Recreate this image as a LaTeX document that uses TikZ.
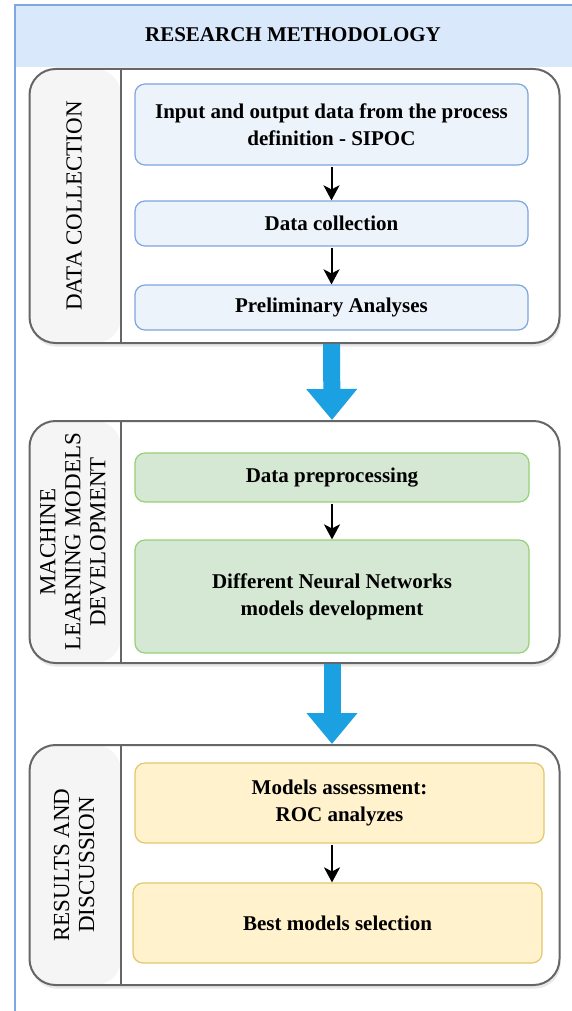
\documentclass[tikz,border=0pt]{standalone}
\usepackage{fontspec}
\setmainfont{Liberation Serif}
\usetikzlibrary{arrows.meta,shapes,shadows}

\definecolor{headfill}{HTML}{DAE8FC}
\definecolor{headline}{HTML}{7EA6E0}
\definecolor{lanegray}{HTML}{666666}
\definecolor{lanehead}{HTML}{F5F5F5}
\definecolor{bluefill}{HTML}{EDF3FB}
\definecolor{blueline}{HTML}{7EA6E0}
\definecolor{greenfill}{HTML}{D5E8D4}
\definecolor{greenline}{HTML}{97D077}
\definecolor{yellowfill}{HTML}{FFF2CC}
\definecolor{yellowline}{HTML}{E3C76A}
\definecolor{flowblue}{HTML}{1BA1E2}

\begin{document}
\begin{tikzpicture}[x=0.5pt, y=-0.5pt, >=Stealth,
  every node/.style={font=\fontsize{10.5}{13.5}\selectfont\bfseries},
  lane/.style={draw=lanegray, line width=1pt, rounded corners=13pt, fill=white,
    minimum width=265pt,
    drop shadow={opacity=0.18, shadow xshift=0.6pt, shadow yshift=-1.8pt},
    path picture={
      \fill[lanehead] (path picture bounding box.north west)
        rectangle ([xshift=45.75pt]path picture bounding box.south west);
      \draw[lanegray, line width=1pt] ([xshift=45.75pt]path picture bounding box.north west)
        -- ([xshift=45.75pt]path picture bounding box.south west);}},
  lanetitle/.style={rotate=90, align=center, font=\fontsize{11.5}{12.5}\selectfont},
  task/.style={rounded corners=5pt, line width=0.6pt, align=center, minimum width=196.5pt},
  bluetask/.style={task, draw=blueline, fill=bluefill},
  greentask/.style={task, draw=greenline, fill=greenfill, minimum width=197pt},
  yellowtask/.style={task, draw=yellowline, fill=yellowfill, minimum width=204.5pt},
  flow/.style={-{Stealth[length=7.5pt, width=8pt, inset=2pt]}, line width=1pt, black, shorten <=0.5pt},
  bigflow/.style={flowblue, line width=8.5pt, -{Triangle[width=24.5pt, length=15.5pt]}}]

  \path[use as bounding box, fill=white] (0,0) rectangle (572,1011);

  % Header band
  \fill[headfill] (15,5) rectangle (572,67);
  \draw[headline, line width=0.8pt] (572,5) -- (15,5) -- (15,1011);
  \node (title) at (293,35) {RESEARCH METHODOLOGY};

  % Lanes
  \node[lane, minimum height=137pt] (dc) at (294.5,206) {};
  \node[lane, minimum height=121pt] (ml) at (294.5,542) {};
  \node[lane, minimum height=120pt] (rd) at (294.5,865) {};

  \node[lanetitle] (dctitle) at (74,206) {DATA COLLECTION};
  \node[lanetitle] (mltitle) at (73,542) {MACHINE\\LEARNING MODELS\\DEVELOPMENT};
  \node[lanetitle] (rdtitle) at (74,865) {RESULTS AND\\DISCUSSION};

  % Data collection steps
  \node[bluetask, minimum height=40.5pt] (sipoc) at (331.5,124.5) {Input and output data from the process\\definition - SIPOC};
  \node[bluetask, minimum height=22.5pt] (collect) at (331.5,223.5) {Data collection};
  \node[bluetask, minimum height=22.5pt] (prelim) at (331.5,307.5) {Preliminary Analyses};

  % Model development steps
  \node[greentask, minimum height=24.5pt] (prep) at (332,477.5) {Data preprocessing};
  \node[greentask, minimum height=56.5pt] (nets) at (332,596.5) {Different Neural Networks\\models development};

  % Results steps
  \node[yellowtask, minimum height=40pt] (roc) at (339.5,803) {Models assessment:\\ROC analyzes};
  \node[yellowtask, minimum height=40pt] (best) at (337.5,923) {Best models selection};

  % Arrows
  \draw[flow] (sipoc) -- (collect);
  \draw[flow] (collect) -- (prelim);
  \draw[flow] (prep) -- (nets);
  \draw[flow] (nets |- roc.south) -- (nets |- best.north);
  \draw[bigflow] (prelim |- dc.south) -- (prep |- ml.north);
  \draw[bigflow] (nets |- ml.south) -- (nets |- rd.north);
\end{tikzpicture}
\end{document}
